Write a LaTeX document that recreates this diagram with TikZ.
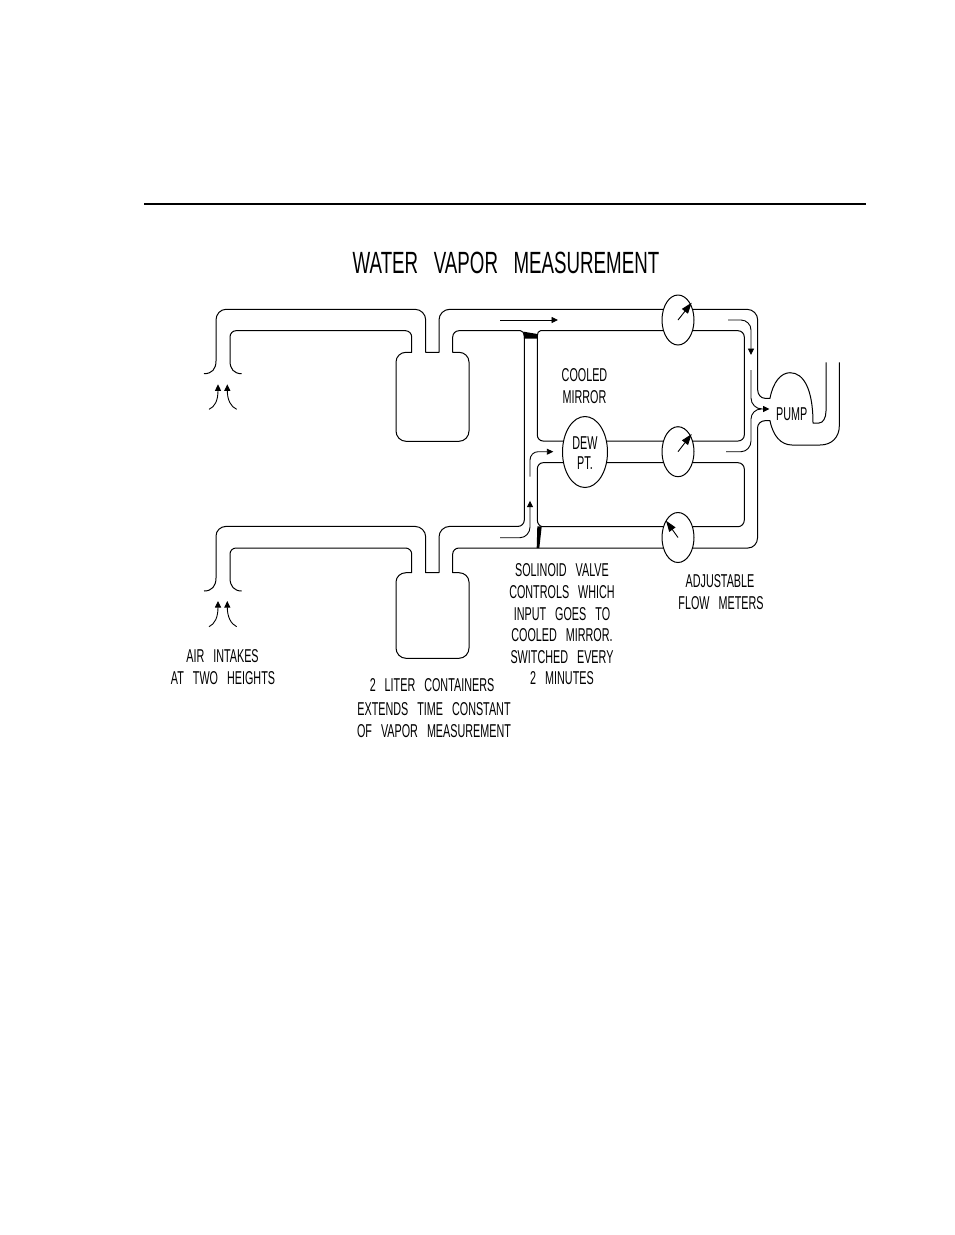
\documentclass[tikz,border=0pt]{standalone}
\usepackage{fontspec}
\usetikzlibrary{arrows.meta,shapes.geometric}
\newfontfamily\cadfont[FakeStretch=0.58,WordSpace=3]{Liberation Sans}
\newfontfamily\cadtitle[FakeStretch=0.61,WordSpace=3]{Liberation Sans}
\newcommand\rc[6]{-- (#1,#2) .. controls ({#1+.55*(#3-#1)},{#2+.55*(#4-#2)}) and ({#5+.55*(#3-#5)},{#6+.55*(#4-#6)}) .. (#5,#6)}
\tikzset{
  pipe/.style={line width=1pt,line join=round},
  flow/.style={line width=0.9pt,line join=round,-{Triangle[length=6.5pt,width=6pt]}},
  flowplain/.style={line width=0.9pt,line join=round},
  needle/.style={line width=0.9pt,-{Triangle[length=11pt,width=7.5pt]}},
  gauge/.style={draw,ellipse,fill=white,line width=1pt,inner sep=0pt,minimum width=32pt,minimum height=50pt},
  lbl/.style={inner sep=0pt,font=\cadfont\fontsize{18.6pt}{20pt}\selectfont},
  ttl/.style={inner sep=0pt,font=\cadtitle\fontsize{30.7pt}{32pt}\selectfont}
}
\begin{document}
\begin{tikzpicture}[x=1pt,y=-1pt]
\useasboundingbox (0,0) rectangle (954,1235);
\draw[line width=2pt] (144,204) -- (866,204);
% upper outer wall, running on into the pump and its outlet
\draw[pipe] (204,373.7) .. controls (212,373.7) and (216,369) .. (216,361)
  \rc{216}{320}{216}{309.3}{226}{309.3} \rc{415}{309.3}{425.7}{309.3}{425.7}{320}
  -- (425.7,352.3) -- (439,352.3) \rc{439}{320}{439}{309.3}{449.7}{309.3}
  \rc{747}{309.3}{757.7}{309.3}{757.7}{320} \rc{757.7}{390}{757.7}{398.3}{765}{398.3} -- (770,398.3)
  .. controls (773,382) and (781,372.7) .. (790,372.7)
  .. controls (804,372.7) and (813,390) .. (813,423)
  -- (819,423) .. controls (823,423) and (826,418) .. (826,411) -- (826,362.3);
% upper inner wall, container, then back along the lower outer wall
\draw[pipe] (241.7,373.7) .. controls (234,373.7) and (230,369) .. (230,361)
  \rc{230}{337}{230}{330.7}{236}{330.7} \rc{405.5}{330.7}{411.7}{330.7}{411.7}{337}
  -- (411.7,352.3) \rc{406}{352.3}{396}{352.3}{396}{362} \rc{396}{431}{396}{441.3}{406}{441.3}
  \rc{459}{441.3}{469}{441.3}{469}{431} \rc{469}{362}{469}{352.3}{459}{352.3}
  -- (452.7,352.3) \rc{452.7}{337}{452.7}{330.7}{459}{330.7} \rc{520.5}{330.7}{524.3}{330.7}{524.3}{336}
  \rc{524.3}{520}{524.3}{526.4}{518}{526.4} \rc{449.7}{526.4}{439}{526.4}{439}{537}
  -- (439,572.7) -- (425.7,572.7) \rc{425.7}{537}{425.7}{526.4}{415}{526.4}
  \rc{226}{526.4}{216}{526.4}{216}{536}
  -- (216,578) .. controls (216,586) and (212,591) .. (204,591);
% lower inner wall, container, through the third meter to the pump
\draw[pipe] (241.7,591) .. controls (234,591) and (230,586) .. (230,578)
  \rc{230}{554}{230}{548}{236}{548} \rc{405.5}{548}{411.7}{548}{411.7}{554}
  -- (411.7,572.7) \rc{406}{572.7}{396}{572.7}{396}{582} \rc{396}{648}{396}{658.3}{406}{658.3}
  \rc{459}{658.3}{469}{658.3}{469}{648} \rc{469}{582}{469}{572.7}{459}{572.7}
  -- (452.7,572.7) \rc{452.7}{554}{452.7}{548}{459}{548} \rc{748}{548}{757.5}{548}{757.5}{538}
  \rc{757.5}{428}{757.5}{420.7}{765}{420.7} -- (770,420.7)
  .. controls (773,436) and (781,445) .. (792,445) -- (820,445)
  .. controls (832,445) and (839.3,437) .. (839.3,426) -- (839.3,362.3);
% upper loop through the first two meters
\draw[pipe] (540.5,330.7) .. controls (538.5,330.7) and (537.3,333) .. (537.3,336)
  \rc{537.3}{435}{537.3}{441}{543}{441} \rc{738}{441}{744.3}{441}{744.3}{435}
  \rc{744.3}{337}{744.3}{330.7}{738}{330.7} -- cycle;
% lower loop
\draw[pipe] (543,462.7) \rc{738}{462.7}{744.3}{462.7}{744.3}{469} \rc{744.3}{520}{744.3}{526.7}{738}{526.7}
  \rc{543}{526.7}{537.3}{526.7}{537.3}{520} \rc{537.3}{469}{537.3}{462.7}{543}{462.7} -- cycle;
% valves
\fill (523.8,331.7) -- (537.3,334) -- (537.3,338.5) -- (523.8,338.5) -- cycle;
\fill (537.3,526.4) -- (541.7,526.4) -- (539.3,548) -- (536.7,548) -- cycle;
% meters and dew point
\node[gauge] (m1) at (678,320) {};
\node[gauge] (m2) at (678,451.7) {};
\node[gauge] (m3) at (678,537.5) {};
\node[draw,ellipse,fill=white,line width=1pt,inner sep=0pt,minimum width=45pt,minimum height=71pt] (dew) at (585,452) {};
\draw[needle] (m1.center) -- (691.7,302.7);
\draw[needle] (m2.center) -- (691.7,434);
\draw[needle] (m3.center) -- (666,520.7);
% flow arrows
\draw[flow] (500,320) -- (558,320);
\draw[flow] (728,320) \rc{741}{320}{751}{320}{751}{330} -- (751,355);
\draw[flow] (751,370) \rc{751}{398}{751}{409}{762}{409} -- (769.5,409);
\draw[flowplain] (726,451.7) \rc{741}{451.7}{751}{451.7}{751}{441} \rc{751}{419}{751}{409}{761}{409};
\draw[flow] (500,537.7) \rc{520}{537.7}{530}{537.7}{530}{527} -- (530,500.7);
\draw[flow] (530,476.7) \rc{530}{460}{530}{451.7}{538}{451.7} -- (553.3,451.7);
% intake arrows
\draw[flow] (209,409.3) .. controls (215,407) and (218,400) .. (218,384.3);
\draw[flow] (236.7,409.3) .. controls (231,407) and (227.3,400) .. (227.3,384.3);
\draw[flow] (209,626.7) .. controls (215,624) and (218,617) .. (218,601);
\draw[flow] (236.7,626.7) .. controls (231,624) and (227.3,617) .. (227.3,601);
% text
\node[ttl] (t0) at (506,263) {WATER VAPOR MEASUREMENT};
\node[lbl] (t1) at (584.5,375) {COOLED};
\node[lbl] (t2) at (584.5,396.7) {MIRROR};
\node[lbl] (t3) at (585,442.7) {DEW};
\node[lbl] (t4) at (585,462.7) {PT.};
\node[lbl] (t5) at (791.7,414) {PUMP};
\node[lbl] (t6) at (562,570) {SOLINOID VALVE};
\node[lbl] (t7) at (562,592) {CONTROLS WHICH};
\node[lbl] (t8) at (562,614) {INPUT GOES TO};
\node[lbl] (t9) at (562,635) {COOLED MIRROR.};
\node[lbl] (t10) at (562,657) {SWITCHED EVERY};
\node[lbl] (t11) at (562,678) {2 MINUTES};
\node[lbl] (t12) at (720,581) {ADJUSTABLE};
\node[lbl] (t13) at (721,603) {FLOW METERS};
\node[lbl] (t14) at (222.5,656) {AIR INTAKES};
\node[lbl] (t15) at (223,678) {AT TWO HEIGHTS};
\node[lbl] (t16) at (432,685) {2 LITER CONTAINERS};
\node[lbl] (t17) at (434,709) {EXTENDS TIME CONSTANT};
\node[lbl] (t18) at (434,731) {OF VAPOR MEASUREMENT};
\end{tikzpicture}
\end{document}
